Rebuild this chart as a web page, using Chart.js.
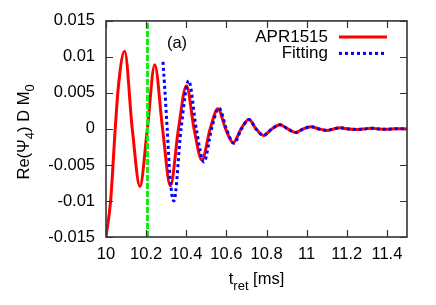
<!DOCTYPE html>
<html>
<head>
<meta charset="utf-8">
<script src="https://cdn.jsdelivr.net/npm/chart.js@4.4.1/dist/chart.umd.min.js"></script>
<style>
html,body{margin:0;padding:0;background:#fff;}
canvas{display:block;}
</style>
</head>
<body>
<canvas id="c" width="436" height="305"></canvas>
<script>
// ---- data ----
const aprT = [10.000,10.023,10.046,10.062,10.093,10.131,10.169,10.206,10.243,10.282,10.321,10.361,10.401,10.439,10.478,10.519,10.558,10.596,10.634,10.673,10.712,10.748,10.785,10.826,10.867,10.906,10.945,10.983,11.021,11.062,11.102,11.134,11.166,11.208,11.250,11.287,11.324,11.360,11.400,11.440,11.500];
const aprV = [-0.0150,-0.0100,0.0000,0.0060,0.0108,0.0000,-0.0080,0.0000,0.0089,0.0000,-0.0079,0.0000,0.0060,0.0000,-0.0043,0.0000,0.0028,0.0000,-0.0019,0.0000,0.0013,0.0000,-0.0009,0.0000,0.0006,0.0000,-0.0005,0.0000,0.0003,0.0000,-0.0002,0.0000,0.00016,0.0000,-0.00007,0.0000,0.0001,0.0000,-0.00004,0.00003,0.0000];
const fitT = [10.284,10.292,10.305,10.320,10.338,10.374,10.412,10.450,10.488,10.526,10.563,10.600,10.637,10.675,10.712,10.748,10.785,10.826,10.867,10.906,10.945,10.983,11.021,11.062,11.102,11.134,11.166,11.208,11.250,11.287,11.324,11.360,11.400,11.440,11.500];
const fitV = [0.0093,0.0060,0.0000,-0.0070,-0.0100,0.0000,0.0067,0.0000,-0.0046,0.0000,0.0029,0.0000,-0.0020,0.0000,0.0013,0.0000,-0.0009,0.0000,0.0006,0.0000,-0.0005,0.0000,0.0003,0.0000,-0.0002,0.0000,0.00016,0.0000,-0.00007,0.0000,0.0001,0.0000,-0.00004,0.00003,0.0000];
const markerT = 10.207;
const xTicks = [10,10.2,10.4,10.6,10.8,11,11.2,11.4];
const xTickLabels = ['10','10.2','10.4','10.6','10.8','11','11.2','11.4'];
const yTicks = [-0.015,-0.01,-0.005,0,0.005,0.01,0.015];
const yTickLabels = ['-0.015','-0.01','-0.005','0','0.005','0.01','0.015'];
const seriesNames = ['APR1515','Fitting'];
const panelLabel = '(a)';
const xTitleParts = [{t:'t'},{t:'ret',sub:true},{t:' [ms]'}];
const yTitleParts = [{t:'Re(Ψ'},{t:'4',sub:true},{t:') D M'},{t:'0',sub:true}];

const FONT = '"Liberation Sans", Arial, sans-serif';
Chart.defaults.font.family = FONT;
Chart.defaults.color = '#000';

function xy(t, v){ return t.map((x,i)=>({x:x, y:v[i]})); }

function richWidth(ctx, parts, fs, sfs){
  let w = 0;
  for (const p of parts){ ctx.font = (p.sub?sfs:fs)+'px '+FONT; w += ctx.measureText(p.t).width; }
  return w;
}
function drawRich(ctx, parts, cx, y, fs, sfs, off){
  const w = richWidth(ctx, parts, fs, sfs);
  let x = cx - w/2;
  ctx.textAlign = 'left';
  ctx.textBaseline = 'alphabetic';
  for (const p of parts){
    ctx.font = (p.sub?sfs:fs)+'px '+FONT;
    ctx.fillText(p.t, x, y + (p.sub?off:0));
    x += ctx.measureText(p.t).width;
  }
}

const deco = {
  id: 'deco',
  afterDraw(chart){
    const {ctx, chartArea:a, scales:{x, y}} = chart;
    ctx.save();
    ctx.strokeStyle = '#333';
    ctx.lineWidth = 1.6;
    // frame
    ctx.strokeRect(a.left, a.top, a.right-a.left, a.bottom-a.top);
    // inward ticks
    const TL = 7;
    ctx.lineWidth = 1.2;
    ctx.beginPath();
    for (const v of xTicks){
      const px = Math.round(x.getPixelForValue(v))+0.5;
      ctx.moveTo(px, a.bottom); ctx.lineTo(px, a.bottom-TL);
      ctx.moveTo(px, a.top); ctx.lineTo(px, a.top+TL);
    }
    for (const v of yTicks){
      const py = Math.round(y.getPixelForValue(v))+0.5;
      ctx.moveTo(a.left, py); ctx.lineTo(a.left+TL, py);
      ctx.moveTo(a.right, py); ctx.lineTo(a.right-TL, py);
    }
    ctx.stroke();

    // legend
    ctx.fillStyle = '#000';
    ctx.font = '17px '+FONT;
    ctx.textAlign = 'right';
    ctx.textBaseline = 'middle';
    const ds = chart.data.datasets;
    const rows = [ds[2], ds[1]];
    rows.forEach((d, i) => {
      const yy = a.top + 16 + i*16.5;
      ctx.fillText(d.label, a.right - 79, yy);
      ctx.save();
      ctx.strokeStyle = d.borderColor;
      ctx.lineWidth = d.borderWidth;
      ctx.setLineDash(d.borderDash || []);
      ctx.lineCap = 'butt';
      ctx.beginPath();
      ctx.moveTo(a.right - 68, yy);
      ctx.lineTo(a.right - 20, yy);
      ctx.stroke();
      ctx.restore();
    });

    // panel label
    ctx.font = '16.5px '+FONT;
    ctx.textAlign = 'center';
    ctx.textBaseline = 'middle';
    ctx.fillText(panelLabel, 177, a.top + 23);

    // axis titles
    drawRich(ctx, xTitleParts, (a.left+a.right)/2, a.bottom + 47, 16.5, 13, 6);
    ctx.save();
    ctx.translate(28.5, (a.top+a.bottom)/2 + 3);
    ctx.rotate(-Math.PI/2);
    drawRich(ctx, yTitleParts, 0, 0, 16.5, 13, 5);
    ctx.restore();
    ctx.restore();
  }
};

new Chart(document.getElementById('c'), {
  type: 'line',
  data: {
    datasets: [
      { label: 'marker', data: xy([markerT, markerT], [-0.015, 0.015]),
        borderColor: '#11ee11', borderWidth: 3, borderDash: [6,2], pointRadius: 0, order: 0 },
      { label: seriesNames[1], data: xy(fitT, fitV),
        borderColor: '#0000ff', borderWidth: 3, borderDash: [3,3], pointRadius: 0,
        cubicInterpolationMode: 'monotone', order: 1 },
      { label: seriesNames[0], data: xy(aprT, aprV),
        borderColor: '#ff0000', borderWidth: 3, pointRadius: 0,
        cubicInterpolationMode: 'monotone', order: 2 }
    ]
  },
  options: {
    responsive: false,
    animation: false,
    devicePixelRatio: 1,
    layout: { padding: { top: 20, right: 29, left: 0, bottom: 0 } },
    plugins: { legend: { display: false }, tooltip: { enabled: false } },
    scales: {
      x: {
        type: 'linear', min: 10, max: 11.5,
        grid: { display: false, drawTicks: false },
        border: { display: false },
        afterBuildTicks: s => { s.ticks = xTicks.map(v => ({value: v})); },
        afterFit: s => { s.height = 68; },
        ticks: { padding: 8, maxRotation: 0, autoSkip: false, font: { size: 16.5 },
          callback: (v, i) => xTickLabels[i] }
      },
      y: {
        type: 'linear', min: -0.015, max: 0.015,
        grid: { display: false, drawTicks: false },
        border: { display: false },
        afterBuildTicks: s => { s.ticks = yTicks.map(v => ({value: v})); },
        afterFit: s => { s.width = 106; },
        ticks: { padding: 11, autoSkip: false, font: { size: 16.5 },
          callback: (v, i) => yTickLabels[i] }
      }
    }
  },
  plugins: [deco]
});
</script>
</body>
</html>
